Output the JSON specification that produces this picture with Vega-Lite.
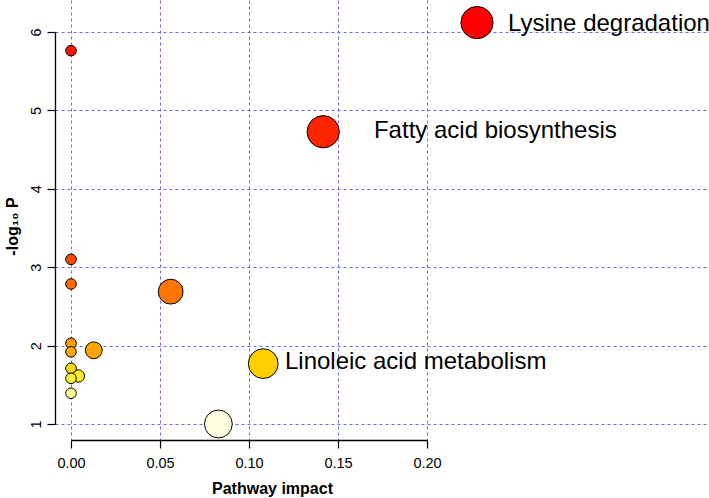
{
  "$schema": "https://vega.github.io/schema/vega-lite/v6.json",
  "width": 654,
  "height": 440,
  "autosize": {"type": "none"},
  "padding": {"left": 55, "top": 0, "right": 0, "bottom": 58},
  "background": "white",
  "config": {"view": {"stroke": null}, "font": "Liberation Sans"},
  "datasets": {
    "pathways": [
      {"name": "Lysine degradation", "impact": 0.2281, "logp": 6.12},
      {"name": "Fatty acid biosynthesis", "impact": 0.1417, "logp": 4.728},
      {"name": "Linoleic acid metabolism", "impact": 0.108, "logp": 1.77},
      {"name": "p1", "impact": 0, "logp": 5.762},
      {"name": "p2", "impact": 0, "logp": 3.10},
      {"name": "p3", "impact": 0, "logp": 2.786},
      {"name": "p4", "impact": 0.056, "logp": 2.688},
      {"name": "p5", "impact": 0, "logp": 2.03},
      {"name": "p6", "impact": 0, "logp": 1.92},
      {"name": "p7", "impact": 0.0128, "logp": 1.94},
      {"name": "p8", "impact": 0, "logp": 1.71},
      {"name": "p9", "impact": 0.0041, "logp": 1.612},
      {"name": "p10", "impact": 0, "logp": 1.583},
      {"name": "p11", "impact": 0, "logp": 1.392},
      {"name": "p12", "impact": 0.0828, "logp": 1.0}
    ],
    "labels": [
      {"label": "Lysine degradation", "lx": 0.2455, "ly": 6.10},
      {"label": "Fatty acid biosynthesis", "lx": 0.1702, "ly": 4.737},
      {"label": "Linoleic acid metabolism", "lx": 0.1202, "ly": 1.79}
    ]
  },
  "resolve": {
    "scale": {"x": "independent", "y": "independent"},
    "axis": {"x": "independent", "y": "independent"}
  },
  "layer": [
    {
      "layer": [
        {
          "data": {"name": "pathways"},
          "mark": {"type": "circle", "stroke": "black", "strokeWidth": 1, "opacity": 1},
          "encoding": {
            "x": {
              "field": "impact",
              "type": "quantitative",
              "scale": {"domain": [-0.008989, 0.35843], "nice": false, "zero": false},
              "axis": {
                "orient": "bottom",
                "values": [0, 0.05, 0.1, 0.15, 0.2],
                "format": ".2f",
                "domain": false,
                "tickSize": 8,
                "tickColor": "black",
                "tickWidth": 1.2,
                "labelFontSize": 14.5,
                "labelColor": "black",
                "labelPadding": 8,
                "title": "Pathway impact",
                "titleFontSize": 16,
                "titleFontWeight": "bold",
                "titleColor": "black",
                "titleX": 217,
                "titleY": 48,
                "titleBaseline": "middle",
                "grid": true,
                "gridColor": "#4d4dff",
                "gridOpacity": 0.85,
                "gridDash": [3, 3],
                "gridWidth": 1
              }
            },
            "y": {
              "field": "logp",
              "type": "quantitative",
              "scale": {"domain": [0.79592, 6.40816], "nice": false, "zero": false},
              "axis": {
                "orient": "left",
                "values": [1, 2, 3, 4, 5, 6],
                "format": "d",
                "domain": false,
                "tickSize": 8,
                "tickColor": "black",
                "tickWidth": 1.2,
                "labelFontSize": 14.5,
                "labelColor": "black",
                "labelAngle": -90,
                "labelAlign": "center",
                "labelBaseline": "bottom",
                "labelPadding": 4,
                "title": "-log₁₀ P",
                "titleFontSize": 16,
                "titleFontWeight": "bold",
                "titleColor": "black",
                "titleAngle": 270,
                "titleAlign": "center",
                "titleBaseline": "middle",
                "titleX": -43,
                "titleY": 226,
                "grid": true,
                "gridColor": "#4d4dff",
                "gridOpacity": 0.85,
                "gridDash": [3, 3],
                "gridWidth": 1
              }
            },
            "size": {
              "field": "impact",
              "type": "quantitative",
              "legend": null,
              "scale": {
                "domain": [0, 0.0041, 0.0128, 0.056, 0.0828, 0.1417, 0.23],
                "range": [113, 154, 284, 616, 774, 1040, 1040]
              }
            },
            "color": {
              "field": "logp",
              "type": "quantitative",
              "legend": null,
              "scale": {
                "domain": [1.0, 1.39, 1.6, 1.75, 1.95, 2.7, 3.1, 4.7, 5.8, 6.1],
                "range": ["#FFFFE0", "#FFFF99", "#FFEE2A", "#FFD400", "#FFA200", "#FF7400", "#FF4A00", "#FF2400", "#FF1200", "#FF0000"],
                "interpolate": "rgb"
              }
            },
            "order": {"field": "impact", "sort": "descending"}
          }
        },
        {
          "data": {"name": "labels"},
          "mark": {"type": "text", "align": "left", "baseline": "middle", "fontSize": 24, "color": "black"},
          "encoding": {
            "x": {"field": "lx", "type": "quantitative"},
            "y": {"field": "ly", "type": "quantitative"},
            "text": {"field": "label"}
          }
        }
      ]
    },
    {
      "data": {"name": "pathways"},
      "mark": {"type": "circle", "opacity": 0, "size": 1},
      "encoding": {
        "x": {
          "field": "impact",
          "type": "quantitative",
          "scale": {"domain": [0, 0.2], "range": [16, 372], "nice": false, "zero": false},
          "axis": {
            "orient": "bottom",
            "domain": true,
            "domainColor": "black",
            "domainWidth": 1.3,
            "ticks": false,
            "labels": false,
            "grid": false,
            "title": null
          }
        },
        "y": {
          "field": "logp",
          "type": "quantitative",
          "scale": {"domain": [1, 6], "range": [424, 32], "nice": false, "zero": false},
          "axis": {
            "orient": "left",
            "domain": true,
            "domainColor": "black",
            "domainWidth": 1.3,
            "ticks": false,
            "labels": false,
            "grid": false,
            "title": null
          }
        }
      }
    }
  ]
}
